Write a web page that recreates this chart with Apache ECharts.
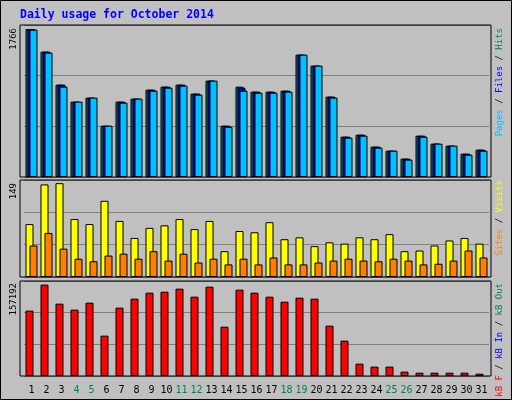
<!DOCTYPE html>
<html><head><meta charset="utf-8">
<script src="https://cdn.jsdelivr.net/npm/echarts@6/dist/echarts.min.js"></script>
<style>html,body{margin:0;padding:0;background:#c0c0c0}#c{width:512px;height:400px}</style>
</head><body><div id="c"></div>
<script>
const days = ['1','2','3','4','5','6','7','8','9','10','11','12','13','14','15','16','17','18','19','20','21','22','23','24','25','26','27','28','29','30','31'];
const weekend = ['4','5','11','12','18','19','25','26'];
const hits = [1766,1496,1102,899,947,612,899,935,1042,1078,1102,995,1150,612,1078,1018,1018,1030,1460,1329,959,481,505,362,314,219,493,398,374,278,326];
const files = [1766,1496,1102,899,947,612,899,935,1042,1078,1102,995,1150,612,1066,1018,1018,1030,1460,1329,959,481,505,362,314,219,493,398,374,278,326];
const pages = [1758,1484,1078,899,947,612,887,935,1030,1066,1090,983,1150,600,1030,1006,1006,1018,1460,1329,947,469,493,350,314,207,481,398,374,266,314];
const visits = [84,147,149,92,84,121,89,62,78,82,92,76,89,41,73,71,87,60,63,49,55,53,63,60,68,41,42,50,58,62,53];
const sites = [50,70,45,29,25,34,37,29,41,26,37,23,29,20,29,20,31,20,20,23,26,29,26,25,29,26,20,21,26,42,31];
const kbytes = [112400,157192,124400,114100,126100,69400,117500,133000,143300,145000,150200,136400,153600,84800,148500,143300,136400,127800,134700,133000,86600,60800,21200,16100,16100,7500,5700,5700,5700,5700,4000];
const kbIn = days.map(() => null);

const chart = echarts.init(document.getElementById('c'));
const font = 'DejaVu Sans Mono';
const panels = [[25, 152, 1814], [180, 97, 154], [281, 95, 163400]];

const grids = panels.map(p => ({ left: 24, width: 465, top: p[0], height: p[1] }));
const xAxes = panels.map((p, i) => ({
  type: 'category', data: days, gridIndex: i,
  axisLine: { show: false }, axisTick: { show: false },
  axisLabel: i === 2 ? {
    show: true, interval: 0, fontFamily: font, fontSize: 10, margin: 9,
    color: v => weekend.includes(v) ? '#008060' : '#000'
  } : { show: false }
}));
const yAxes = panels.map((p, i) => ({
  type: 'value', gridIndex: i, min: 0, max: p[2], interval: p[2] / 3,
  axisLabel: { show: false }, axisLine: { show: false }, axisTick: { show: false },
  splitLine: { lineStyle: { color: '#808080', width: 1 } }
}));

const bar = (name, data, color, idx, width, gap) => ({
  name, type: 'bar', data, xAxisIndex: idx, yAxisIndex: idx,
  barWidth: width, barGap: gap, animation: false,
  itemStyle: { color, borderColor: '#000', borderWidth: 1 }
});

const frames = panels.map(p => ({
  type: 'rect', shape: { x: 20, y: p[0], width: 471, height: p[1] },
  style: { fill: null, stroke: '#000', lineWidth: 1 }, z: 100
}));
const leftLabel = (t, y) => ({
  type: 'text', x: 14, y, rotation: Math.PI / 2,
  style: { text: t, font: '9px ' + font, fill: '#000', align: 'right', verticalAlign: 'middle' }
});
const rightLabel = (parts, y) => ({
  type: 'text', x: 500, y, rotation: Math.PI / 2,
  style: {
    text: parts.map((p, i) => '{c' + i + '|' + p[0] + '}').join('{s| / }'),
    rich: Object.assign({ s: { fill: '#000', font: '9px ' + font } },
      ...parts.map((p, i) => ({ ['c' + i]: { fill: p[1], font: '9px ' + font } }))),
    align: 'right', verticalAlign: 'middle'
  }
});

chart.setOption({
  backgroundColor: '#c0c0c0',
  grid: grids, xAxis: xAxes, yAxis: yAxes,
  series: [
    bar('Hits', hits, '#008060', 0, 8, '-75%'),
    bar('Files', files, '#0000ff', 0, 8, '-75%'),
    bar('Pages', pages, '#00c0ff', 0, 8, '-75%'),
    bar('Visits', visits, '#ffff00', 1, 8, '-50%'),
    bar('Sites', sites, '#ff8000', 1, 8, '-50%'),
    bar('kB F', kbytes, '#ff0000', 2, 8, '-50%'),
    bar('kB In', kbIn, '#0000ff', 2, 8, '-50%')
  ],
  graphic: [
    { type: 'rect', shape: { x: 0.5, y: 0.5, width: 511, height: 399 }, style: { fill: null, stroke: '#000', lineWidth: 1 } },
    { type: 'text', x: 20, y: 15, style: { text: 'Daily usage for October 2014', font: 'bold 11.5px ' + font, fill: '#0000ff', verticalAlign: 'middle' } },
    ...frames,
    leftLabel('1766', 28), leftLabel('149', 183), leftLabel('157192', 283),
    rightLabel([['Pages', '#00c0ff'], ['Files', '#0000ff'], ['Hits', '#008060']], 28),
    rightLabel([['Sites', '#ff8000'], ['Visits', '#ffff00']], 180),
    rightLabel([['kB F', '#ff0000'], ['kB In', '#0000ff'], ['kB Out', '#008060']], 283)
  ]
});
</script></body></html>
